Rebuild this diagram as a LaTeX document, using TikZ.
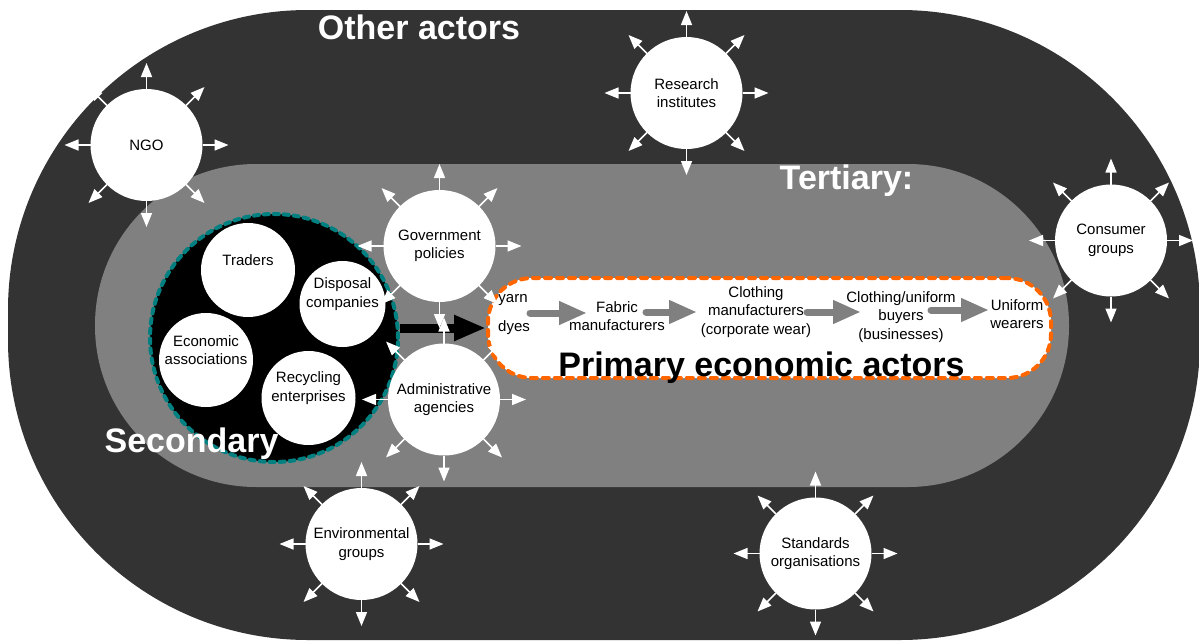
\documentclass[tikz,border=0pt]{standalone}
\usepackage{fontspec}
\setmainfont{Liberation Sans}
\usetikzlibrary{arrows.meta,calc}
\definecolor{outerring}{RGB}{51,51,51}
\definecolor{midring}{RGB}{128,128,128}
\definecolor{secline}{RGB}{0,128,128}
\definecolor{primline}{RGB}{255,102,0}

\tikzset{
  actor/.style={circle,fill=white,minimum size=112pt,inner sep=0pt,outer sep=0pt,align=center,font=\fontsize{15}{18.5}\selectfont},
  member/.style={circle,fill=white,minimum size=94pt,inner sep=0pt,outer sep=0pt},
  txt/.style={align=center,inner sep=0pt,font=\fontsize{15}{18.5}\selectfont},
  ray/.style={draw=white,line width=1.5pt,-{Triangle[length=14pt,width=11pt]}},
  flow/.style={draw=midring,line width=7pt,line cap=round,-{Triangle[length=28pt,width=22pt]}},
  big/.style={anchor=base,inner sep=0pt,font=\fontsize{34}{40}\selectfont\bfseries}
}

\begin{document}
\begin{tikzpicture}[x=1pt,y=-1pt]
  \useasboundingbox (0,0) rectangle (1199,640);
  \fill[outerring,rounded corners=300pt] (8,10) rectangle (1200,640);
  \fill[midring,rounded corners=161pt] (95,164) rectangle (1069,487);

  \node[circle,fill=black,draw=secline,line width=4pt,line cap=round,dash pattern=on 5pt off 5pt,minimum size=248pt,inner sep=0pt] (sec) at (274,338) {};
  \node[member] (traders) at (248,270) {};
  \node[member,minimum size=86pt] (disposal) at (342.5,304) {};
  \node[member] (econ) at (206,360) {};
  \node[member] (recyc) at (308.5,398) {};
  \node[txt] (traderstxt) at (248,260) {Traders};
  \node[txt] (disposaltxt) at (342.5,294) {Disposal\\companies};
  \node[txt] (econtxt) at (206,350) {Economic\\associations};
  \node[txt] (recyctxt) at (308.5,388) {Recycling\\enterprises};

  \node[draw=primline,fill=white,line width=4pt,line cap=round,dash pattern=on 6pt off 6pt,rounded corners=44pt,minimum width=563pt,minimum height=100pt,inner sep=0pt] (prim) at (769.5,328) {};
  \node[txt] (yarn) at (513,300) {yarn};
  \node[txt] (dyes) at (514,328) {dyes};
  \node[txt] (fabric) at (617,316) {Fabric\\manufacturers};
  \node[txt] (clothing) at (756,312) {Clothing\\manufacturers\\(corporate wear)};
  \node[txt] (buyers) at (901,317) {Clothing/uniform\\buyers\\(businesses)};
  \node[txt] (wearers) at (1017,314) {Uniform\\wearers};
  \coordinate (f1s) at (530,313);
  \coordinate (f1e) at (587,313);
  \coordinate (f2s) at (646,312);
  \coordinate (f2e) at (697,312);
  \coordinate (f3s) at (807,312);
  \coordinate (f3e) at (861,312);
  \coordinate (f4s) at (931,310);
  \coordinate (f4e) at (989,310);
  \draw[flow] (f1s) -- (f1e);
  \draw[flow] (f2s) -- (f2e);
  \draw[flow] (f3s) -- (f3e);
  \draw[flow] (f4s) -- (f4e);
  \node[big,black] (primlbl) at (761.5,376) {Primary economic actors};

  \draw[line width=9pt,-{Triangle[length=32pt,width=24pt]}] (sec.east |- prim.west) -- (prim.west);

  \node[actor] (ngo) at (146.5,145) {NGO};
  \node[actor] (research) at (686.5,93) {Research\\institutes};
  \node[actor] (consumer) at (1111,240.5) {Consumer\\groups};
  \node[actor] (gov) at (439.5,246) {Government\\policies};
  \node[actor] (admin) at (444,399.5) {Administrative\\agencies};
  \node[actor] (env) at (361.5,544) {Environmental\\groups};
  \node[actor] (std) at (815.5,553.5) {Standards\\organisations};
  \foreach \who in {ngo,research,consumer,gov,admin,env,std}
    \foreach \a in {0,45,...,315}
      \draw[ray] (\who.\a) -- ($(\who.center)+(\a:82pt)$);

  \node[big,white] (otherlbl) at (419,39) {Other actors};
  \node[big,white] (tertlbl) at (846.5,189) {Tertiary:};
  \node[big,white] (seclbl) at (191.5,452) {Secondary};
\end{tikzpicture}
\end{document}
